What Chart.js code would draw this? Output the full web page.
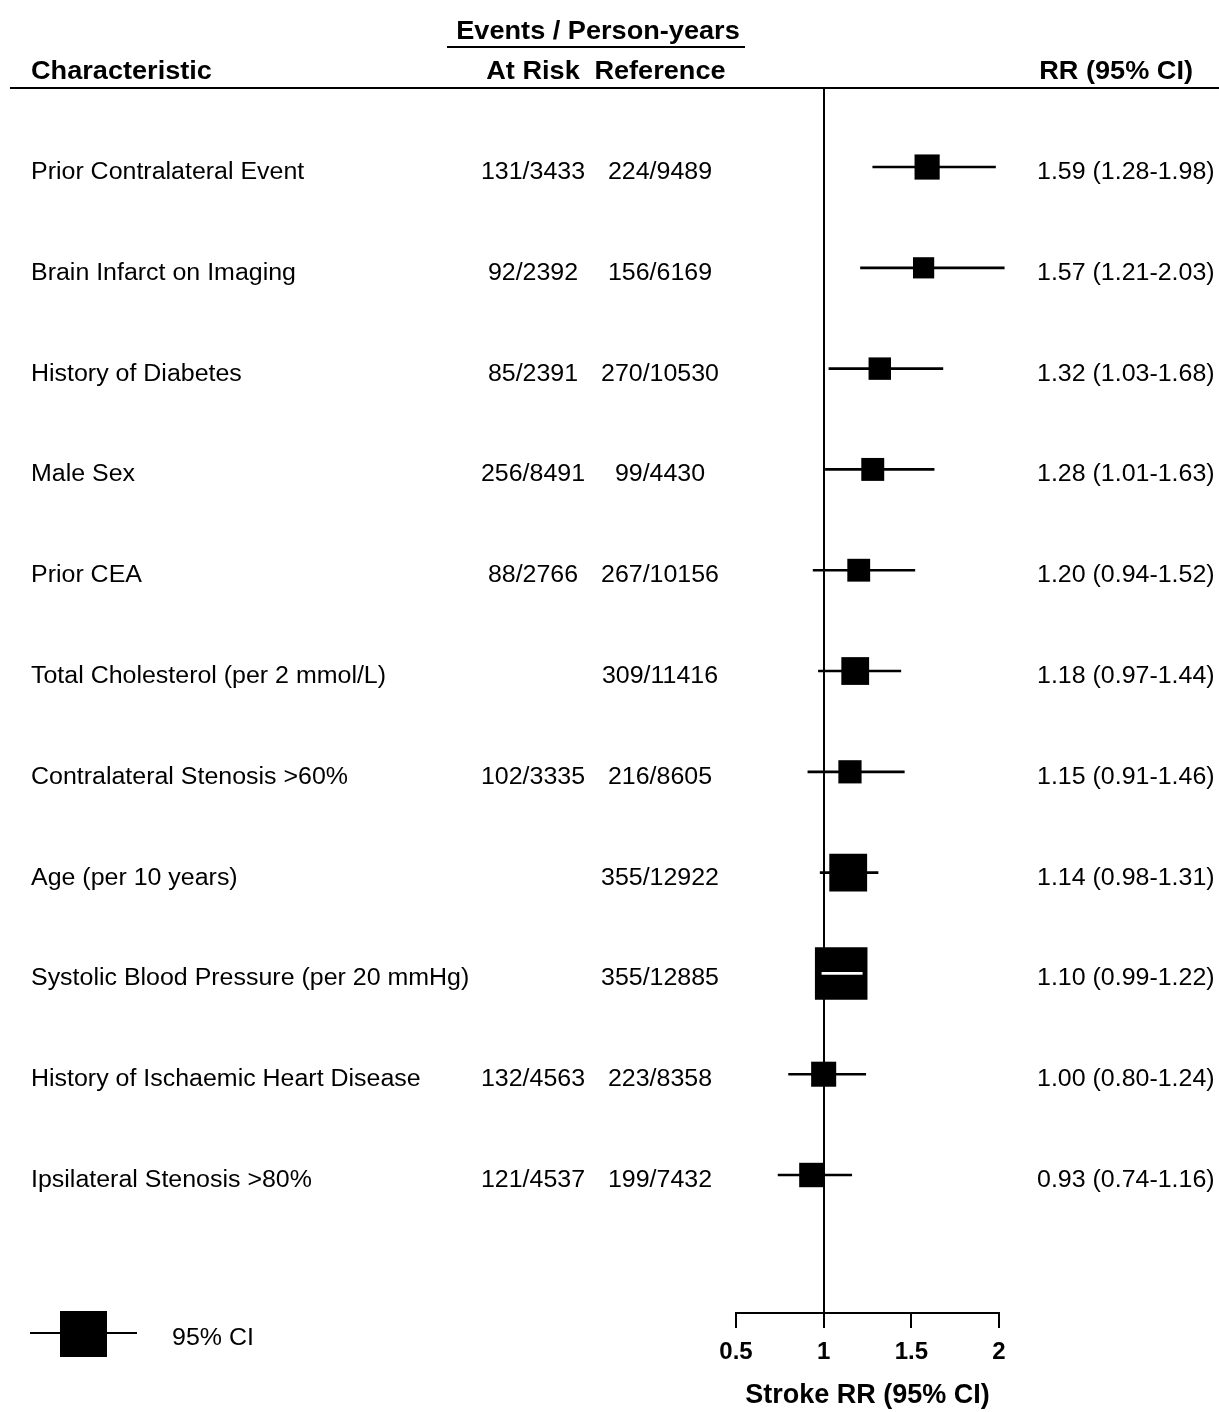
<!DOCTYPE html>
<html>
<head>
<meta charset="utf-8">
<title>Stroke RR forest plot</title>
<script src="https://cdn.jsdelivr.net/npm/chart.js@4.4.1/dist/chart.umd.min.js"></script>
<style>
  html, body { margin: 0; padding: 0; background: #fff; }
  #wrap { width: 1219px; height: 1412px; position: relative; }
</style>
</head>
<body>
<div id="wrap"><canvas id="forest"></canvas></div>
<script>
// ---- data ----
const characteristics = [
  'Prior Contralateral Event',
  'Brain Infarct on Imaging',
  'History of Diabetes',
  'Male Sex',
  'Prior CEA',
  'Total Cholesterol (per 2 mmol/L)',
  'Contralateral Stenosis >60%',
  'Age (per 10 years)',
  'Systolic Blood Pressure (per 20 mmHg)',
  'History of Ischaemic Heart Disease',
  'Ipsilateral Stenosis >80%'
];
const atRisk = ['131/3433', '92/2392', '85/2391', '256/8491', '88/2766', '', '102/3335', '', '', '132/4563', '121/4537'];
const reference = ['224/9489', '156/6169', '270/10530', '99/4430', '267/10156', '309/11416', '216/8605', '355/12922', '355/12885', '223/8358', '199/7432'];
const rr     = [1.59, 1.57, 1.32, 1.28, 1.20, 1.18, 1.15, 1.14, 1.10, 1.00, 0.93];
const ciLow  = [1.28, 1.21, 1.03, 1.01, 0.94, 0.97, 0.91, 0.98, 0.99, 0.80, 0.74];
const ciHigh = [1.98, 2.03, 1.68, 1.63, 1.52, 1.44, 1.46, 1.31, 1.22, 1.24, 1.16];
const xTicks = [0.5, 1, 1.5, 2];
const axisTitle = 'Stroke RR (95% CI)';
const legendLabel = '95% CI';

// ---- styling helpers ----
const FONT = '"Liberation Sans", Arial, Helvetica, sans-serif';
const SX = 1.085; // horizontal stretch of table text

const rows = characteristics.map((_, i) => i);

// box side (px) from the inverse standard error of the log RR
function boxSide(i) {
  const se = (Math.log(ciHigh[i]) - Math.log(ciLow[i])) / 3.92;
  return 2.8 / se;
}

function ciInsideBox(chart, i) {
  const xs = chart.scales.x;
  if (!xs) return false;
  const w = xs.getPixelForValue(ciHigh[i]) - xs.getPixelForValue(ciLow[i]);
  return w < boxSide(i);
}

function drawText(ctx, text, x, y, font, align) {
  ctx.save();
  ctx.font = font;
  ctx.textAlign = align;
  ctx.textBaseline = 'alphabetic';
  ctx.translate(x, y);
  ctx.scale(SX, 1);
  ctx.fillText(text, 0, 0);
  ctx.restore();
}

const fmt = v => v.toFixed(2);

// table columns, header rules and the key
const tablePlugin = {
  id: 'forestTable',
  afterDraw(chart) {
    const ctx = chart.ctx;
    const ys = chart.scales.y;
    const bold = `bold 25px ${FONT}`;
    const reg = `23px ${FONT}`;
    ctx.save();
    ctx.fillStyle = '#000';

    drawText(ctx, 'Events / Person-years', 598, 39, bold, 'center');
    ctx.fillRect(447, 46, 298, 2);
    drawText(ctx, 'Characteristic', 31, 79, bold, 'left');
    drawText(ctx, 'At Risk', 533, 79, bold, 'center');
    drawText(ctx, 'Reference', 660, 79, bold, 'center');
    drawText(ctx, 'RR (95% CI)', 1193, 79, bold, 'right');
    ctx.fillRect(10, 87, 1209, 2);

    rows.forEach(i => {
      const y = ys.getPixelForValue(i) + 12;
      drawText(ctx, characteristics[i], 31, y, reg, 'left');
      if (atRisk[i]) drawText(ctx, atRisk[i], 533, y, reg, 'center');
      drawText(ctx, reference[i], 660, y, reg, 'center');
      drawText(ctx, `${fmt(rr[i])} (${fmt(ciLow[i])}-${fmt(ciHigh[i])})`, 1037, y, reg, 'left');
    });

    // key
    ctx.fillRect(30, 1332, 107, 2);
    ctx.fillRect(60, 1311, 47, 46);
    drawText(ctx, legendLabel, 172, 1345, reg, 'left');
    ctx.restore();
  }
};

new Chart(document.getElementById('forest'), {
  type: 'scatter',
  data: {
    datasets: [
      {
        type: 'bar',
        label: 'CI',
        indexAxis: 'y',
        data: rows.map(i => ({ x: [ciLow[i], ciHigh[i]], y: i })),
        backgroundColor: c => ciInsideBox(c.chart, c.dataIndex) ? '#fff' : '#000',
        borderWidth: 0,
        barThickness: 2,
        grouped: false,
        clip: false,
        order: 0
      },
      {
        type: 'scatter',
        label: 'RR',
        data: rows.map(i => ({ x: rr[i], y: i })),
        pointStyle: 'rect',
        pointRadius: c => boxSide(c.dataIndex) / Math.SQRT2,
        pointHoverRadius: c => boxSide(c.dataIndex) / Math.SQRT2,
        backgroundColor: '#000',
        borderWidth: 0,
        clip: false,
        order: 1
      }
    ]
  },
  options: {
    responsive: true,
    maintainAspectRatio: false,
    animation: false,
    events: [],
    layout: { padding: { left: 736, right: 220, top: 88, bottom: 0 } },
    plugins: {
      legend: { display: false },
      tooltip: { enabled: false }
    },
    scales: {
      x: {
        type: 'linear',
        position: 'bottom',
        min: 0.5,
        max: 2,
        offset: false,
        afterBuildTicks: s => { s.ticks = xTicks.map(v => ({ value: v })); },
        afterFit: s => { s.height = 99; },
        ticks: {
          color: '#000',
          padding: 10,
          maxRotation: 0,
          font: { family: FONT, size: 24, weight: 'bold' },
          callback: v => String(v)
        },
        grid: {
          color: c => (c.tick && c.tick.value === 1) ? '#000' : 'rgba(0,0,0,0)',
          lineWidth: 2,
          drawTicks: true,
          tickLength: 15,
          tickColor: '#000',
          tickWidth: 2,
          offset: false
        },
        border: { display: true, color: '#000', width: 2 },
        title: {
          display: true,
          text: axisTitle,
          color: '#000',
          font: { family: FONT, size: 27, weight: 'bold' },
          padding: { top: 0, bottom: 0 }
        }
      },
      y: {
        type: 'linear',
        display: false,
        reverse: true,
        min: -0.784,
        max: 11.369,
        offset: false
      }
    }
  },
  plugins: [tablePlugin]
});
</script>
</body>
</html>
